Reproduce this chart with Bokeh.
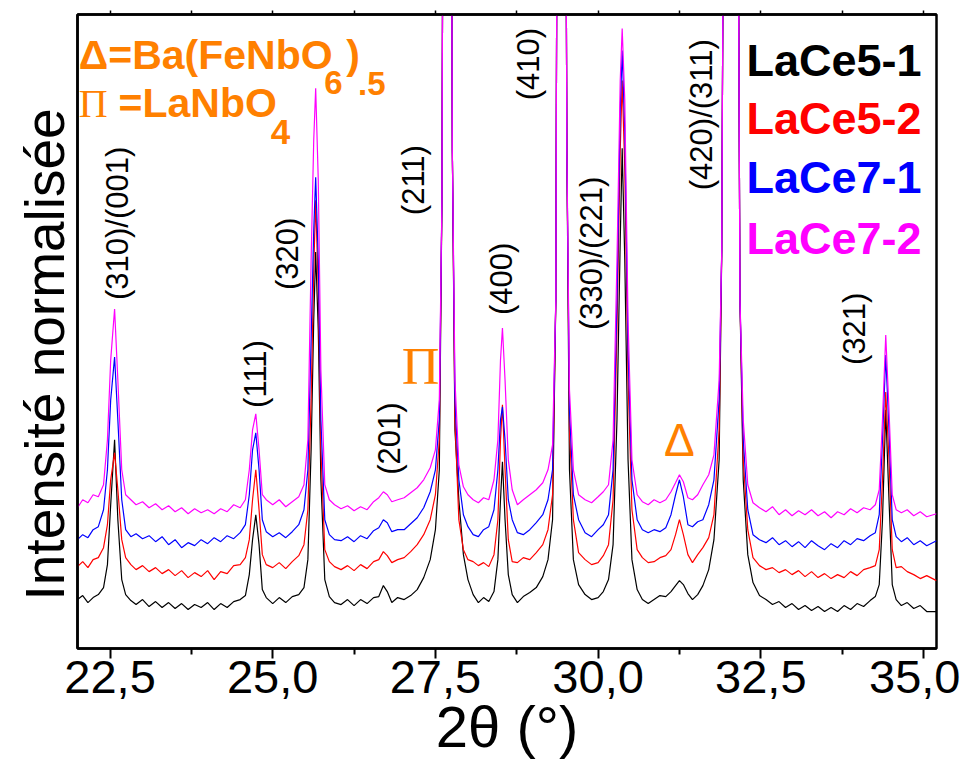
import math
from bokeh.plotting import figure
from bokeh.models import Range1d, FixedTicker, LinearAxis, Label
from bokeh.embed import file_html
from bokeh.resources import INLINE

# ---------------- data ----------------
two_theta = [
    22.00, 22.08, 22.16, 22.24, 22.32, 22.40, 22.46, 22.51, 22.57, 22.62, 22.68, 22.74, 22.82, 22.90,
    23.00, 23.10, 23.20, 23.30, 23.40, 23.50, 23.60, 23.70, 23.80, 23.90,
    24.00, 24.10, 24.20, 24.30, 24.40, 24.50, 24.58, 24.64, 24.69, 24.74, 24.79, 24.84, 24.90,
    25.00, 25.10, 25.20, 25.30, 25.40, 25.48, 25.54, 25.59, 25.63, 25.66, 25.70, 25.74, 25.80, 25.87, 25.95,
    26.05, 26.15, 26.25, 26.35, 26.45, 26.55, 26.63, 26.70, 26.76, 26.83, 26.92,
    27.02, 27.12, 27.22, 27.32, 27.42, 27.50, 27.56, 27.60, 27.68, 27.76, 27.80, 27.86, 27.93,
    28.00, 28.08, 28.16, 28.24, 28.32, 28.40, 28.46, 28.50, 28.53, 28.57, 28.62, 28.68, 28.76, 28.85, 28.95,
    29.05, 29.15, 29.23, 29.30, 29.35, 29.43, 29.52, 29.56, 29.62, 29.70, 29.80, 29.90,
    30.00, 30.08, 30.16, 30.23, 30.29, 30.34, 30.37, 30.41, 30.46, 30.52, 30.60, 30.68, 30.77, 30.86, 30.95,
    31.04, 31.12, 31.19, 31.25, 31.31, 31.38, 31.45, 31.53, 31.61, 31.70, 31.78, 31.86, 31.90,
    32.04, 32.18, 32.23, 32.30, 32.38, 32.48, 32.58, 32.68, 32.78, 32.88, 32.98,
    33.08, 33.18, 33.28, 33.38, 33.48, 33.58, 33.68, 33.78, 33.88, 33.98,
    34.08, 34.18, 34.26, 34.32, 34.37, 34.42, 34.47, 34.52, 34.58, 34.66, 34.75, 34.85, 34.95,
    35.05, 35.20,
]

lace5_1 = [
    49, 53, 46, 51, 54, 61, 84, 144, 209, 129, 69, 54, 48, 44,
    49, 42, 47, 41, 46, 40, 45, 39, 44, 41,
    46, 39, 45, 41, 47, 49, 53, 74, 109, 134, 104, 59, 51,
    45, 51, 46, 52, 54, 61, 89, 199, 329, 397, 319, 169, 69, 52, 46,
    44, 49, 43, 49, 45, 51, 52, 63, 57, 46, 51,
    49, 53, 59, 71, 89, 119, 179, 449, 2149, 499, 219, 149, 94,
    69, 54, 46, 51, 47, 57, 89, 149, 187, 129, 74, 54, 46, 52, 56,
    61, 72, 89, 129, 349, 2149, 499, 179, 89, 64, 54, 49,
    51, 57, 69, 104, 229, 409, 501, 389, 189, 89, 59, 49, 45, 49, 53,
    52, 57, 63, 68, 64, 55, 49, 54, 63, 79, 109, 189, 399,
    2449, 349, 169, 94, 66, 53, 49, 44, 47, 41, 45,
    39, 43, 38, 42, 37, 41, 37, 43, 39, 45,
    42, 48, 52, 64, 129, 239, 149, 64, 49, 43, 46, 40, 43,
    37, 37,
]

lace5_2 = [
    82, 87, 81, 89, 91, 101, 124, 169, 196, 159, 109, 91, 84, 79,
    83, 77, 81, 75, 79, 73, 78, 71, 76, 72,
    78, 69, 77, 75, 83, 84, 91, 109, 149, 179, 139, 94, 84,
    81, 86, 80, 87, 93, 104, 139, 249, 379, 449, 359, 199, 99, 87, 82,
    79, 83, 78, 84, 80, 87, 89, 97, 93, 86, 89,
    91, 97, 104, 114, 129, 154, 209, 449, 2149, 499, 229, 129, 99,
    89, 87, 83, 86, 82, 94, 129, 209, 244, 179, 109, 87, 86, 91, 89,
    96, 104, 119, 154, 349, 2149, 499, 219, 129, 96, 89, 84,
    86, 93, 104, 149, 319, 499, 569, 479, 269, 139, 99, 91, 86, 87, 91,
    93, 99, 114, 129, 114, 94, 86, 94, 101, 111, 134, 219, 399,
    2449, 349, 189, 119, 91, 83, 79, 81, 76, 79, 74,
    78, 72, 77, 71, 75, 70, 74, 71, 77, 73,
    79, 81, 83, 99, 169, 257, 189, 99, 81, 82, 77, 74, 70,
    73, 68,
]

lace7_1 = [
    109, 114, 111, 119, 122, 139, 179, 249, 292, 229, 149, 119, 112, 115,
    110, 113, 107, 112, 104, 109, 101, 106, 103, 109,
    105, 111, 107, 113, 110, 116, 124, 154, 199, 216, 179, 129, 117,
    112, 116, 111, 117, 124, 139, 179, 309, 419, 472, 389, 229, 129, 114, 109,
    108, 112, 107, 113, 110, 118, 121, 129, 126, 117, 119,
    119, 125, 131, 141, 157, 179, 229, 449, 2149, 499, 249, 169, 134,
    122, 114, 112, 119, 122, 139, 179, 229, 242, 209, 149, 129, 116, 114, 119,
    126, 134, 149, 179, 349, 2149, 499, 239, 154, 129, 116, 112,
    119, 124, 134, 179, 349, 539, 599, 519, 299, 169, 129, 119, 116, 119, 117,
    121, 134, 154, 169, 152, 124, 122, 127, 129, 144, 169, 249, 399,
    2449, 349, 209, 139, 114, 109, 106, 111, 104, 108, 102,
    107, 101, 108, 103, 99, 105, 101, 108, 104, 110,
    108, 113, 116, 134, 209, 294, 219, 129, 112, 107, 111, 104, 108,
    103, 108,
]

lace7_2 = [
    141, 149, 146, 154, 152, 164, 209, 289, 340, 269, 179, 154, 149, 144,
    147, 141, 145, 139, 143, 137, 141, 135, 140, 136,
    139, 135, 140, 137, 144, 141, 149, 179, 219, 235, 199, 154, 149,
    144, 149, 142, 147, 152, 164, 209, 389, 509, 561, 469, 279, 164, 149, 144,
    140, 143, 138, 142, 139, 147, 151, 157, 154, 147, 149,
    151, 156, 161, 169, 181, 199, 249, 449, 2149, 499, 269, 184, 162,
    154, 149, 146, 151, 149, 169, 209, 289, 321, 269, 189, 159, 144, 149, 154,
    159, 166, 179, 204, 349, 2149, 499, 259, 179, 154, 149, 146,
    152, 157, 164, 209, 389, 569, 621, 549, 329, 189, 154, 147, 144, 149, 146,
    149, 157, 166, 174, 167, 151, 149, 154, 164, 174, 194, 269, 399,
    2449, 349, 229, 164, 146, 141, 137, 142, 134, 139, 133,
    138, 134, 139, 133, 137, 131, 137, 134, 140, 136,
    141, 139, 144, 159, 229, 314, 239, 154, 139, 136, 139, 133, 137,
    132, 135,
]

series_names = ["LaCe5-1", "LaCe5-2", "LaCe7-1", "LaCe7-2"]
series_colors = ["#000000", "#FF0000", "#0000FF", "#FF00FF"]

major_ticks = [22.5, 25.0, 27.5, 30.0, 32.5, 35.0]
major_tick_labels = ["22,5", "25,0", "27,5", "30,0", "32,5", "35,0"]
minor_ticks = [23.75, 26.25, 28.75, 31.25, 33.75]

hkl_labels = ["(310)/(001)", "(111)", "(320)", "(201)", "(211)", "(400)",
              "(410)", "(330)/(221)", "(420)/(311)", "(321)"]
hkl_x = [22.62, 24.74, 25.23, 26.79, 27.17, 28.51, 28.93, 29.90, 31.59, 33.94]
hkl_y = [349, 241, 359, 174, 434, 334, 549, 319, 459, 284]

# ---------------- figure ----------------
SANS = "Liberation Sans"
ORANGE = "#FF8000"

p = figure(width=960, height=761, output_backend="svg", toolbar_location=None,
           x_range=Range1d(22.0, 35.2), y_range=Range1d(0, 635),
           y_axis_location=None,
           min_border_left=77, min_border_right=24, min_border_top=14, min_border_bottom=112)
p.grid.visible = False
p.outline_line_color = "black"
p.outline_line_width = 2.5
p.background_fill_color = "white"
p.border_fill_color = "white"

ax = p.xaxis[0]
ax.ticker = FixedTicker(ticks=major_ticks, minor_ticks=minor_ticks)
ax.major_label_overrides = {t: s for t, s in zip(major_ticks, major_tick_labels)}
ax.major_label_text_font = SANS
ax.major_label_text_font_size = "47px"
ax.major_label_text_color = "black"
ax.major_label_standoff = 2
ax.axis_line_width = 2.5
ax.major_tick_line_width = 2
ax.minor_tick_line_width = 2
ax.major_tick_out = 10
ax.major_tick_in = 0
ax.minor_tick_out = 6
ax.minor_tick_in = 0
ax.axis_label = "2θ (°)"
ax.axis_label_text_font = SANS
ax.axis_label_text_font_size = "58px"
ax.axis_label_text_font_style = "normal"
ax.axis_label_text_color = "black"
ax.axis_label_standoff = -2

left = LinearAxis(ticker=FixedTicker(ticks=[]), axis_line_width=2.5,
                  axis_label="Intensité normalisée\u00a0\u00a0\u00a0",
                  axis_label_text_font=SANS, axis_label_text_font_size="55px",
                  axis_label_text_font_style="normal", axis_label_text_color="black",
                  axis_label_standoff=2,
                  major_tick_out=0, minor_tick_out=0, major_tick_in=0, minor_tick_in=0)
p.add_layout(left, "left")

top = LinearAxis(ticker=FixedTicker(ticks=major_ticks, minor_ticks=minor_ticks),
                 major_label_overrides={t: "" for t in major_ticks},
                 major_tick_out=4, major_tick_in=0,
                 minor_tick_out=4, minor_tick_in=0, axis_line_width=2.5,
                 major_tick_line_width=1.5, minor_tick_line_width=1.5)
p.add_layout(top, "above")

for ys, c in zip([lace5_1, lace5_2, lace7_1, lace7_2], series_colors):
    p.line(two_theta, ys, line_color=c, line_width=1.2)

# hkl labels
for t, xx, yy in zip(hkl_labels, hkl_x, hkl_y):
    p.add_layout(Label(x=xx, y=yy, text=t, text_font=SANS, text_font_size="31px",
                       angle=math.pi / 2, text_align="left", text_baseline="middle",
                       text_color="black"))

# phase markers
p.add_layout(Label(x=27.27, y=282, text="Π", text_font="Liberation Serif", text_font_size="52px",
                   text_align="center", text_baseline="middle", text_color=ORANGE))
p.add_layout(Label(x=31.25, y=209, text="Δ", text_font=SANS, text_font_size="46px",
                   text_align="center", text_baseline="middle", text_color=ORANGE))

# phase legend (top-left)
def olab(x, y, t, size="41px", font=SANS, style="bold"):
    p.add_layout(Label(x=x, y=y, text=t, text_font=font, text_font_size=size,
                       text_font_style=style, text_align="left",
                       text_baseline="alphabetic", text_color=ORANGE))

olab(22.02, 594, "Δ=Ba(FeNbO")
olab(25.79, 567, "6", size="33px")
olab(26.13, 594, ")")
olab(26.31, 566, ".5", size="33px")
olab(22.02, 546, "Π", size="40px", font="Liberation Serif", style="normal")
olab(22.63, 546, "=LaNbO")
olab(24.97, 517, "4", size="35px")

# sample legend (top-right)
legend_y = [589, 531, 472, 411]
for name, c, yy in zip(series_names, series_colors, legend_y):
    p.add_layout(Label(x=32.28, y=yy, text=name, text_font=SANS, text_font_size="45px",
                       text_font_style="bold", text_align="left",
                       text_baseline="alphabetic", text_color=c))

open("out.html", "w").write(file_html(p, INLINE))
